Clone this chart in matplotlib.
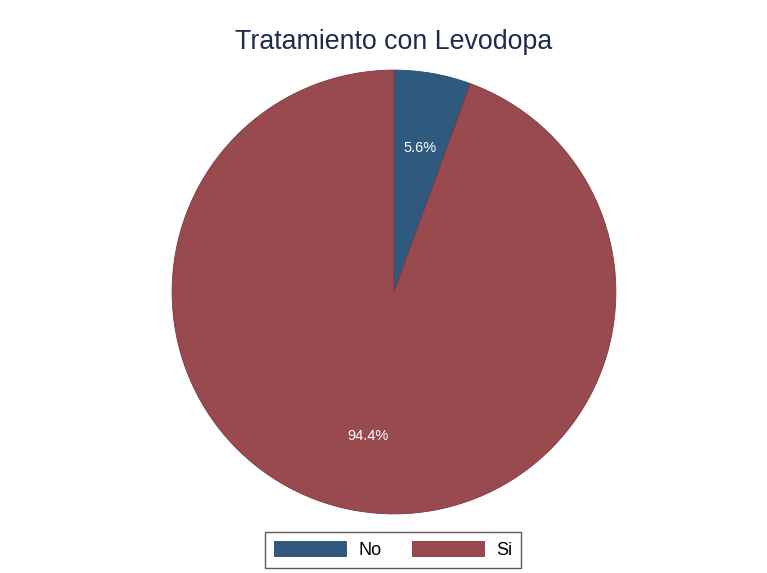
import matplotlib.pyplot as plt

# Levodopa treatment shares (%)
labels = ["No", "Si"]
shares = [5.6, 94.4]
colors = ["#30597f", "#994a4f"]

plt.rcParams["font.family"] = ["Liberation Sans", "DejaVu Sans"]

fig = plt.figure(figsize=(7.67, 5.73), dpi=100)
ax = fig.add_axes([0.2229, 0.1012, 0.5815, 0.7784])

wedges, _, autotexts = ax.pie(
    shares,
    colors=colors,
    startangle=90,
    counterclock=False,
    autopct="%.1f%%",
    pctdistance=0.66,
    wedgeprops=dict(linewidth=0.6, edgecolor="#7a3a40"),
    textprops=dict(color="white", fontsize=10.5),
)
wedges[0].set_edgecolor("#284a6a")
ax.set_xlim(-1.005, 1.005)
ax.set_ylim(-1.005, 1.005)
ax.set_aspect("equal")

fig.text(0.5137, 0.927, "Tratamiento con Levodopa", ha="center", va="center",
         fontsize=19.3, color="#1e2b4f")

leg = fig.legend(wedges, labels, loc="center", bbox_to_anchor=(0.5124, 0.0401),
                 ncol=2, fontsize=13, handlelength=4.0, handleheight=0.9,
                 handletextpad=0.65, columnspacing=1.7, fancybox=False,
                 borderpad=0.5)
leg.get_frame().set_edgecolor("#333333")
leg.get_frame().set_linewidth(1.0)

fig.savefig("out.png", dpi=100)
